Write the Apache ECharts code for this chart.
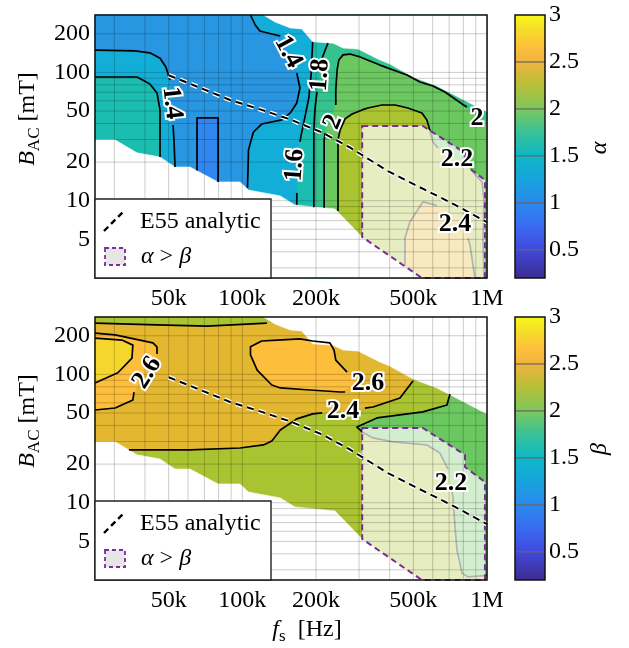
<!DOCTYPE html>
<html>
<head>
<meta charset="utf-8">
<title>Steinmetz exponent maps</title>
<script src="https://cdn.jsdelivr.net/npm/echarts@6.0.0/dist/echarts.min.js"></script>
<style>
html, body { margin: 0; padding: 0; background: #fff; }
#chart { width: 629px; height: 648px; }
</style>
</head>
<body>
<div id="chart"></div>
<script>
// Switching frequency f_s in kHz, AC flux density B_AC in mT.
const freqRange = [25, 1000];
const fluxRange = [2.5, 280];

const xTickValues = [50, 100, 200, 500, 1000];
const xTickLabels = ['50k', '100k', '200k', '500k', '1M'];
const yTickValues = [5, 10, 20, 50, 100, 200];
const yTickLabels = ['5', '10', '20', '50', '100', '200'];
const xGridValues = [30, 40, 50, 60, 70, 80, 90, 100, 200, 300, 400, 500, 600, 700, 800, 900];
const yGridValues = [3, 4, 5, 6, 7, 8, 9, 10, 20, 30, 40, 50, 60, 70, 80, 90, 100, 200];
const colorbarRange = [0.2, 3];
const colorbarTicks = [0.5, 1, 1.5, 2, 2.5, 3];
const colorbarTickLabels = ['0.5', '1', '1.5', '2', '2.5', '3'];

// Parts of the (f, B) plane without measurements
const blankAbove = [[122, 280], [136, 247], [157, 222], [175, 218], [194, 173], [235, 169], [258, 155], [297, 152], [365, 125], [401, 116], [498, 92.1], [624, 78.4], [1000, 49.2], [1000, 280]];
const blankBelow = [[25, 29.8], [30.2, 29.8], [37.1, 23.6], [46.1, 21.9], [53.1, 18.3], [61.1, 18.3], [79.6, 14.0], [97.9, 14.0], [106, 12.1], [143, 10.9], [164, 9.28], [239, 8.64], [309, 5.22], [542, 2.5], [25, 2.5]];

// E55 analytic operating line
const e55Freq = [50, 67, 89, 120, 157, 212, 275, 394, 508, 740, 1000];
const e55Flux = [95, 76, 61, 51, 43, 34, 26, 17, 13.3, 9.3, 6.8];

// Region where alpha > beta
const alphaGtBeta = [[309, 38.2], [547, 38.2], [813, 23.6], [813, 19.0], [981, 14.5], [981, 2.5], [542, 2.5], [309, 5.22]];

// ---- alpha: filled regions (value of the lower contour level) ----
const alphaRegion12 = [[25, 280], [108, 280], [113, 234], [118, 210], [132, 199], [143, 192], [154, 144], [167, 98.9], [172, 75.6], [167, 57.8], [157, 48.3], [145, 42.6], [120, 39.6], [111, 34.3], [106, 24.9], [105, 10.1], [53.1, 10.1], [53.1, 18.3], [52.6, 28.7], [51.6, 51.0], [50.6, 90.5], [48.7, 110], [46.1, 129], [41.9, 142], [36.4, 147], [25, 149]];
const alphaRegion10 = [[65.3, 44.2], [79.6, 44.2], [79.6, 12.1], [65.3, 12.1]];
const alphaRegion16Left = [[25, 92.1], [37.1, 92.1], [41.9, 81.3], [44.8, 69.1], [46.1, 51.0], [46.1, 20.8], [25, 20.8]];
const alphaRegion16Right = [[194, 280], [194, 173], [193, 144], [191, 95.4], [187, 63.2], [180, 44.2], [174, 32.5], [172, 28.7], [170, 19.0], [167, 11.1], [167, 2.5], [1000, 2.5], [1000, 280]];
const alphaRegion18 = [[228, 280], [224, 169], [218, 149], [212, 129], [208, 95.4], [202, 70.4], [200, 61.0], [198, 51.0], [196, 35.6], [196, 20.8], [196, 2.5], [1000, 2.5], [1000, 280]];
const alphaRegion20 = [[216, 2.5], [216, 29.8], [220, 35.6], [228, 40.4], [239, 52.8], [241, 72.9], [244, 104], [248, 125], [258, 137], [275, 139], [303, 132], [365, 114], [471, 95.4], [532, 84.2], [601, 78.4], [673, 70.4], [790, 56.8], [868, 49.2], [1000, 41.1], [1000, 2.5]];
const alphaRegion22 = [[246, 2.5], [246, 15.9], [246, 29.8], [251, 35.6], [263, 43.4], [281, 47.4], [309, 51.0], [326, 52.8], [372, 55.7], [421, 55.7], [475, 52.8], [542, 48.3], [568, 42.6], [579, 37.6], [601, 28.7], [642, 24.9], [754, 20.8], [876, 16.8], [954, 14.0], [972, 10.1], [963, 4.95], [972, 2.5]];
const alphaRegion24 = [[462, 2.5], [462, 5.13], [484, 6.84], [547, 9.79], [613, 9.28], [673, 8.79], [761, 7.35], [813, 6.14], [852, 4.52], [893, 2.5]];

// ---- alpha: contour lines (pieces broken where a label sits) ----
const alphaLine14Left = [[[25, 149], [36.4, 147], [41.9, 142], [46.1, 129], [48.7, 110], [50.6, 87.3]], [[52.1, 38.9], [52.6, 28.7], [53.1, 18.3]]];
const alphaLine14Right = [[[108, 280], [113, 234], [118, 210], [132, 199], [143, 192]], [[167, 98.9], [172, 75.6], [167, 57.8], [157, 48.3], [145, 42.6], [120, 39.6], [111, 34.3], [106, 24.9], [105, 12.6]]];
const alphaLine12 = [[[65.3, 17.2], [65.3, 44.2], [79.6, 44.2], [79.6, 14.0]]];
const alphaLine16Left = [[[25, 92.1], [37.1, 92.1], [41.9, 81.3], [44.8, 69.1], [46.1, 51.0], [46.1, 21.9]]];
const alphaLine16Right = [[[194, 173], [193, 144], [191, 95.4], [187, 63.2], [180, 44.2], [174, 32.5], [172, 28.7]], [[167, 11.5], [167, 9.3]]];
const alphaLine18 = [[[224, 169], [218, 149], [212, 129]], [[202, 70.4], [200, 61.0], [198, 51.0], [196, 35.6], [196, 20.8], [196, 8.9]]];
const alphaLine20 = [[[216, 8.8], [216, 29.8], [218, 33.7]], [[241, 55.7], [241, 72.9], [244, 104], [248, 125], [258, 137], [275, 139], [303, 132], [365, 114], [471, 95.4], [532, 84.2], [601, 78.4], [673, 70.4], [790, 56.8], [828, 53.8]]];
const alphaLine22 = [[[246, 8.3], [246, 15.9], [246, 29.8], [251, 35.6], [263, 43.4], [281, 47.4], [309, 51.0], [326, 52.8], [372, 55.7], [421, 55.7], [475, 52.8], [542, 48.3], [568, 42.6], [579, 37.6], [601, 28.7], [631, 25.8]], [[876, 16.8], [954, 14.0], [972, 10.1], [963, 4.95], [972, 2.5]]];
const alphaLine24 = [[[462, 3.1], [462, 5.13], [484, 6.84], [547, 9.79], [613, 9.28], [624, 9.11]], [[836, 5.13], [852, 4.52], [893, 2.5]]];

const alphaLabelText = ['1.4', '1.4', '1.8', '1.6', '2', '2', '2.2', '2.4'];
const alphaLabelPos = [[51.6, 57.8], [154, 144], [208, 95.4], [164, 19.0], [235, 41.1], [910, 44.2], [754, 21.2], [740, 6.60]];

// ---- beta: filled regions ----
const betaRegion24 = [[25, 251], [44.8, 243], [71.7, 238], [126, 251], [532, 251], [532, 93.7], [498, 93.7], [484, 82.7], [441, 65.5], [342, 55.7], [258, 51.9], [194, 49.2], [167, 45.0], [143, 36.9], [132, 30.3], [122, 28.2], [97.9, 26.7], [61.1, 25.8], [33.8, 25.3], [33.8, 21.6], [25, 21.6]];
const betaRegion26Left = [[25, 210], [30.2, 203], [43.1, 176], [44.8, 164], [44.8, 142], [40.8, 103], [36.8, 78.4], [35.7, 63.2], [30.2, 54.7], [25, 52.8]];
const betaRegion28 = [[25, 192], [32.2, 185], [35.7, 169], [35.4, 134], [31.0, 103], [25, 85.7]];
const betaRegion26Right = [[108, 164], [120, 182], [139, 185], [172, 189], [194, 182], [228, 176], [237, 155], [241, 129], [268, 104], [303, 87.3], [251, 72.9], [189, 75.6], [143, 78.4], [132, 82.7], [115, 108], [108, 142]];
const betaRegion20 = [[719, 82.7], [686, 57.8], [547, 51.0], [355, 45.8], [294, 38.9], [309, 35.6], [342, 32.0], [413, 29.8], [568, 28.2], [642, 24.4], [693, 19.0], [713, 14.3], [726, 11.1], [740, 6.48], [754, 4.29], [790, 2.84], [836, 2.64], [1000, 2.71], [1000, 82.7]];

// ---- beta: contour lines ----
const betaLine24Top = [[[25, 251], [44.8, 243], [71.7, 238], [126, 251]]];
const betaLine24Low = [[[34.4, 25.8], [61.1, 25.8], [97.9, 26.7], [122, 28.2], [132, 30.3], [143, 36.9], [167, 45.0], [194, 49.2], [212, 50.1]], [[317, 54.6], [342, 55.7], [441, 65.5], [484, 82.7], [498, 88.9]]];
const betaLine26Left = [[[25, 210], [30.2, 203], [43.1, 176], [44.8, 164], [44.8, 144]], [[36.1, 72.9], [35.7, 63.2], [30.2, 54.7], [25, 52.8]]];
const betaLine28 = [[[25, 192], [32.2, 185], [35.7, 169], [35.4, 134], [31.0, 103], [25, 85.7]]];
const betaLine26Right = [[[268, 104], [241, 129], [237, 155], [228, 176], [194, 182], [172, 189], [139, 185], [120, 182], [108, 164], [108, 142], [115, 108], [132, 82.7], [143, 78.4], [189, 75.6], [251, 72.9], [263, 72.9]]];
const betaLine22 = [[[706, 70.4], [686, 57.8], [547, 51.0], [355, 45.8], [294, 38.9], [309, 35.6], [342, 32.0], [413, 29.8], [568, 28.2], [642, 24.4], [693, 18.3]], [[719, 12.1], [726, 11.1], [740, 6.48], [754, 4.29], [790, 2.84], [836, 2.64], [1000, 2.71]]];

const betaLabelText = ['2.6', '2.6', '2.4', '2.2'];
const betaLabelPos = [[40.8, 103], [326, 85.7], [258, 51.9], [713, 14.3]];

// ---------------- styling ----------------
const SERIF = '"Liberation Serif", "Times New Roman", "DejaVu Serif", serif';
const PURPLE = '#7d2a9b';
const levelColor = {
  '1': '#2f86ef', '1.2': '#2896e0', '1.4': '#13aed8', '1.6': '#1bbdb1', '1.8': '#34c38f',
  '2': '#6bc760', '2.2': '#aac331', '2.4': '#e4b730', '2.6': '#fdbe3c', '2.8': '#f5d62d'
};
const parulaLevels = [0.2, 0.5, 0.75, 1.0, 1.25, 1.5, 1.75, 2.0, 2.25, 2.5, 2.65, 2.85, 3.0];
const parulaColors = ['#3b2c8f', '#4149dc', '#3a6bf2', '#2a89ee', '#18a3dc', '#0eb8c6', '#38c298', '#7dc85c', '#b7bf39', '#efb43d', '#fdbe3c', '#f5dd28', '#f9f81a'];
const alphaLabelAngle = [-84, -62, 86, 86, 68, 0, 0, 0];
const betaLabelAngle = [58, 0, 0, 0];

const plotRect = [[freqRange[0], fluxRange[0]], [freqRange[1], fluxRange[0]], [freqRange[1], fluxRange[1]], [freqRange[0], fluxRange[1]]];

const panels = [
  {
    baseLevel: 1.4,
    regions: [[alphaRegion12, 1.2], [alphaRegion10, 1.0], [alphaRegion16Left, 1.6], [alphaRegion16Right, 1.6],
              [alphaRegion18, 1.8], [alphaRegion20, 2.0], [alphaRegion22, 2.2], [alphaRegion24, 2.4]],
    lines: [alphaLine14Left, alphaLine14Right, alphaLine12, alphaLine16Left, alphaLine16Right, alphaLine18, alphaLine20, alphaLine22, alphaLine24],
    labelText: alphaLabelText, labelPos: alphaLabelPos, labelAngle: alphaLabelAngle,
    symbol: 'α'
  },
  {
    baseLevel: 2.2,
    regions: [[betaRegion24, 2.4], [betaRegion26Left, 2.6], [betaRegion28, 2.8], [betaRegion26Right, 2.6], [betaRegion20, 2.0]],
    lines: [betaLine24Top, betaLine24Low, betaLine26Left, betaLine28, betaLine26Right, betaLine22],
    labelText: betaLabelText, labelPos: betaLabelPos, labelAngle: betaLabelAngle,
    symbol: 'β'
  }
];

const plotBoxes = [
  { left: 95, top: 15, width: 392, height: 263 },
  { left: 95, top: 317, width: 392, height: 263 }
];
const cbarBoxes = [
  { left: 515, top: 15, width: 30, height: 263 },
  { left: 515, top: 317, width: 30, height: 263 }
];

function customSeries(axisIdx, z, data, renderItem) {
  return { type: 'custom', xAxisIndex: axisIdx, yAxisIndex: axisIdx, z: z, silent: true, animation: false, data: data, renderItem: renderItem };
}

function panelSeries(p, cfg) {
  const layers = [{ pts: plotRect, fill: levelColor[String(cfg.baseLevel)] }]
    .concat(cfg.regions.map(r => ({ pts: r[0], fill: levelColor[String(r[1])] })))
    .concat([{ pts: blankAbove, fill: '#ffffff' }, { pts: blankBelow, fill: '#ffffff' }]);
  const segments = [].concat(...cfg.lines);
  const e55 = e55Freq.map((f, i) => [f, e55Flux[i]]);
  const out = [];

  // filled contour bands and blank (unmeasured) parts
  out.push(customSeries(p, 1, layers.map(l => l.pts[0]), (params, api) => {
    const l = layers[params.dataIndex];
    return { type: 'polygon', shape: { points: l.pts.map(pt => api.coord(pt)) },
             style: { fill: l.fill, stroke: l.fill, lineWidth: 0.6 } };
  }));

  // contour lines
  out.push(customSeries(p, 3, segments.map(s => s[0]), (params, api) => {
    const s = segments[params.dataIndex];
    return { type: 'polyline', shape: { points: s.map(pt => api.coord(pt)) },
             style: { fill: 'none', stroke: '#000', lineWidth: 1.7, lineJoin: 'round' } };
  }));

  // alpha > beta area
  out.push(customSeries(p, 4, [alphaGtBeta[0]], (params, api) => ({
    type: 'polygon', shape: { points: alphaGtBeta.map(pt => api.coord(pt)) },
    style: { fill: 'rgba(255,255,255,0.7)', stroke: PURPLE, lineWidth: 2, lineDash: [6, 4] }
  })));

  // log grid
  out.push(customSeries(p, 5, xGridValues.map(v => [v, fluxRange[0]]), (params, api) => {
    const v = xGridValues[params.dataIndex];
    const a = api.coord([v, fluxRange[0]]), b = api.coord([v, fluxRange[1]]);
    return { type: 'line', shape: { x1: a[0], y1: a[1], x2: b[0], y2: b[1] },
             style: { stroke: 'rgba(0,0,0,0.2)', lineWidth: 1 } };
  }));
  out.push(customSeries(p, 5, yGridValues.map(v => [freqRange[0], v]), (params, api) => {
    const v = yGridValues[params.dataIndex];
    const a = api.coord([freqRange[0], v]), b = api.coord([freqRange[1], v]);
    return { type: 'line', shape: { x1: a[0], y1: a[1], x2: b[0], y2: b[1] },
             style: { stroke: 'rgba(0,0,0,0.2)', lineWidth: 1 } };
  }));

  // E55 analytic curve: white outline under a black dashed line
  out.push(customSeries(p, 6, [e55[0], e55[0]], (params, api) => {
    const halo = params.dataIndex === 0;
    return { type: 'polyline', shape: { points: e55.map(pt => api.coord(pt)) },
             style: { fill: 'none', stroke: halo ? '#fff' : '#000', lineWidth: halo ? 4.6 : 2, lineDash: [7, 5], lineCap: 'butt' } };
  }));

  // contour labels
  out.push(customSeries(p, 7, cfg.labelPos, (params, api) => {
    const i = params.dataIndex;
    const c = api.coord(cfg.labelPos[i]);
    return { type: 'text', x: c[0], y: c[1], rotation: cfg.labelAngle[i] * Math.PI / 180,
             style: { text: cfg.labelText[i], fill: '#000', stroke: '#fff', lineWidth: 4,
                      fontFamily: SERIF, fontWeight: 'bold', fontSize: 26, align: 'center', verticalAlign: 'middle' } };
  }));

  // frame
  out.push(customSeries(p, 8, [plotRect[0]], (params, api) => {
    const a = api.coord([freqRange[0], fluxRange[1]]), b = api.coord([freqRange[1], fluxRange[0]]);
    return { type: 'rect', shape: { x: a[0], y: a[1], width: b[0] - a[0], height: b[1] - a[1] },
             style: { fill: 'none', stroke: '#111', lineWidth: 1.5 } };
  }));

  // tick labels
  out.push(customSeries(p, 8, xTickValues.map(v => [v, fluxRange[0]]), (params, api) => {
    const i = params.dataIndex;
    const c = api.coord([xTickValues[i], fluxRange[0]]);
    return { type: 'text', x: c[0], y: c[1] + 21,
             style: { text: xTickLabels[i], fill: '#000', fontFamily: SERIF, fontSize: 24, align: 'center', verticalAlign: 'middle' } };
  }));
  out.push(customSeries(p, 8, yTickValues.map(v => [freqRange[0], v]), (params, api) => {
    const i = params.dataIndex;
    const c = api.coord([freqRange[0], yTickValues[i]]);
    return { type: 'text', x: c[0] - 5, y: c[1],
             style: { text: yTickLabels[i], fill: '#000', fontFamily: SERIF, fontSize: 24, align: 'right', verticalAlign: 'middle' } };
  }));

  // colorbar
  const ci = p + 2;
  out.push(customSeries(ci, 2, [[0, colorbarRange[0]]], (params, api) => {
    const tl = api.coord([0, colorbarRange[1]]), br = api.coord([1, colorbarRange[0]]);
    const span = colorbarRange[1] - colorbarRange[0];
    const stops = parulaLevels.map((v, k) => ({ offset: (v - colorbarRange[0]) / span, color: parulaColors[k] }));
    const children = [{ type: 'rect', shape: { x: tl[0], y: tl[1], width: br[0] - tl[0], height: br[1] - tl[1] },
                        style: { fill: new echarts.graphic.LinearGradient(0, 1, 0, 0, stops) } }];
    colorbarTicks.forEach(t => {
      if (t < colorbarRange[1]) {
        const a = api.coord([0, t]), b = api.coord([1, t]);
        children.push({ type: 'line', shape: { x1: a[0], y1: a[1], x2: b[0], y2: b[1] }, style: { stroke: '#666', lineWidth: 1.2 } });
      }
    });
    children.push({ type: 'rect', shape: { x: tl[0], y: tl[1], width: br[0] - tl[0], height: br[1] - tl[1] },
                    style: { fill: 'none', stroke: '#111', lineWidth: 1.5 } });
    return { type: 'group', children: children };
  }));
  out.push(customSeries(ci, 3, colorbarTicks.map(t => [1, t]), (params, api) => {
    const i = params.dataIndex;
    const c = api.coord([1, colorbarTicks[i]]);
    return { type: 'text', x: c[0] + 4, y: c[1],
             style: { text: colorbarTickLabels[i], fill: '#000', fontFamily: SERIF, fontSize: 24, align: 'left', verticalAlign: 'middle' } };
  }));
  return out;
}

function legendElements(dy) {
  return [
    { type: 'rect', z: 100, shape: { x: 95, y: 199 + dy, width: 176, height: 79 }, style: { fill: '#fff', stroke: '#222', lineWidth: 1.4 } },
    { type: 'line', z: 101, shape: { x1: 104, y1: 231 + dy, x2: 123, y2: 212 + dy }, style: { stroke: '#000', lineWidth: 2.4, lineDash: [6, 4] } },
    { type: 'text', z: 101, x: 140, y: 222 + dy, style: { text: 'E55 analytic', fill: '#000', fontFamily: SERIF, fontSize: 24, align: 'left', verticalAlign: 'middle' } },
    { type: 'rect', z: 101, shape: { x: 105, y: 248 + dy, width: 20, height: 17 }, style: { fill: '#e6e6e6', stroke: PURPLE, lineWidth: 1.8, lineDash: [4, 3] } },
    { type: 'text', z: 101, x: 141, y: 257 + dy, style: { text: '{i|α} > {i|β}', fill: '#000', fontFamily: SERIF, fontSize: 24, align: 'left', verticalAlign: 'middle',
        rich: { i: { fontStyle: 'italic', fontFamily: SERIF, fontSize: 24 } } } }
  ];
}

const subRich = {
  it: { fontStyle: 'italic', fontFamily: SERIF, fontSize: 24, lineHeight: 30 },
  sub: { fontFamily: SERIF, fontSize: 17, lineHeight: 17, verticalAlign: 'bottom' },
  n: { fontFamily: SERIF, fontSize: 24, lineHeight: 30 }
};

const graphics = [].concat(
  legendElements(0), legendElements(302),
  [
    { type: 'text', z: 100, x: 28, y: 119, rotation: Math.PI / 2, style: { text: '{it|B}{sub|AC}{n| [mT]}', rich: subRich, fill: '#000', align: 'center', verticalAlign: 'middle' } },
    { type: 'text', z: 100, x: 28, y: 421, rotation: Math.PI / 2, style: { text: '{it|B}{sub|AC}{n| [mT]}', rich: subRich, fill: '#000', align: 'center', verticalAlign: 'middle' } },
    { type: 'text', z: 100, x: 307, y: 630, style: { text: '{it|f}{sub|s}{n|  [Hz]}', rich: subRich, fill: '#000', align: 'center', verticalAlign: 'middle' } },
    { type: 'text', z: 100, x: 600, y: 148, rotation: Math.PI / 2, style: { text: panels[0].symbol, fill: '#000', fontFamily: SERIF, fontStyle: 'italic', fontSize: 24, align: 'center', verticalAlign: 'middle' } },
    { type: 'text', z: 100, x: 600, y: 449, rotation: Math.PI / 2, style: { text: panels[1].symbol, fill: '#000', fontFamily: SERIF, fontStyle: 'italic', fontSize: 24, align: 'center', verticalAlign: 'middle' } }
  ]
);

const option = {
  backgroundColor: '#ffffff',
  animation: false,
  grid: plotBoxes.concat(cbarBoxes),
  xAxis: [
    { gridIndex: 0, type: 'log', logBase: 10, min: freqRange[0], max: freqRange[1], show: false },
    { gridIndex: 1, type: 'log', logBase: 10, min: freqRange[0], max: freqRange[1], show: false },
    { gridIndex: 2, type: 'value', min: 0, max: 1, show: false },
    { gridIndex: 3, type: 'value', min: 0, max: 1, show: false }
  ],
  yAxis: [
    { gridIndex: 0, type: 'log', logBase: 10, min: fluxRange[0], max: fluxRange[1], show: false },
    { gridIndex: 1, type: 'log', logBase: 10, min: fluxRange[0], max: fluxRange[1], show: false },
    { gridIndex: 2, type: 'value', min: colorbarRange[0], max: colorbarRange[1], show: false },
    { gridIndex: 3, type: 'value', min: colorbarRange[0], max: colorbarRange[1], show: false }
  ],
  series: [].concat(panelSeries(0, panels[0]), panelSeries(1, panels[1])),
  graphic: { elements: graphics }
};

const chart = echarts.init(document.getElementById('chart'), null, { renderer: 'canvas' });
chart.setOption(option);
</script>
</body>
</html>
